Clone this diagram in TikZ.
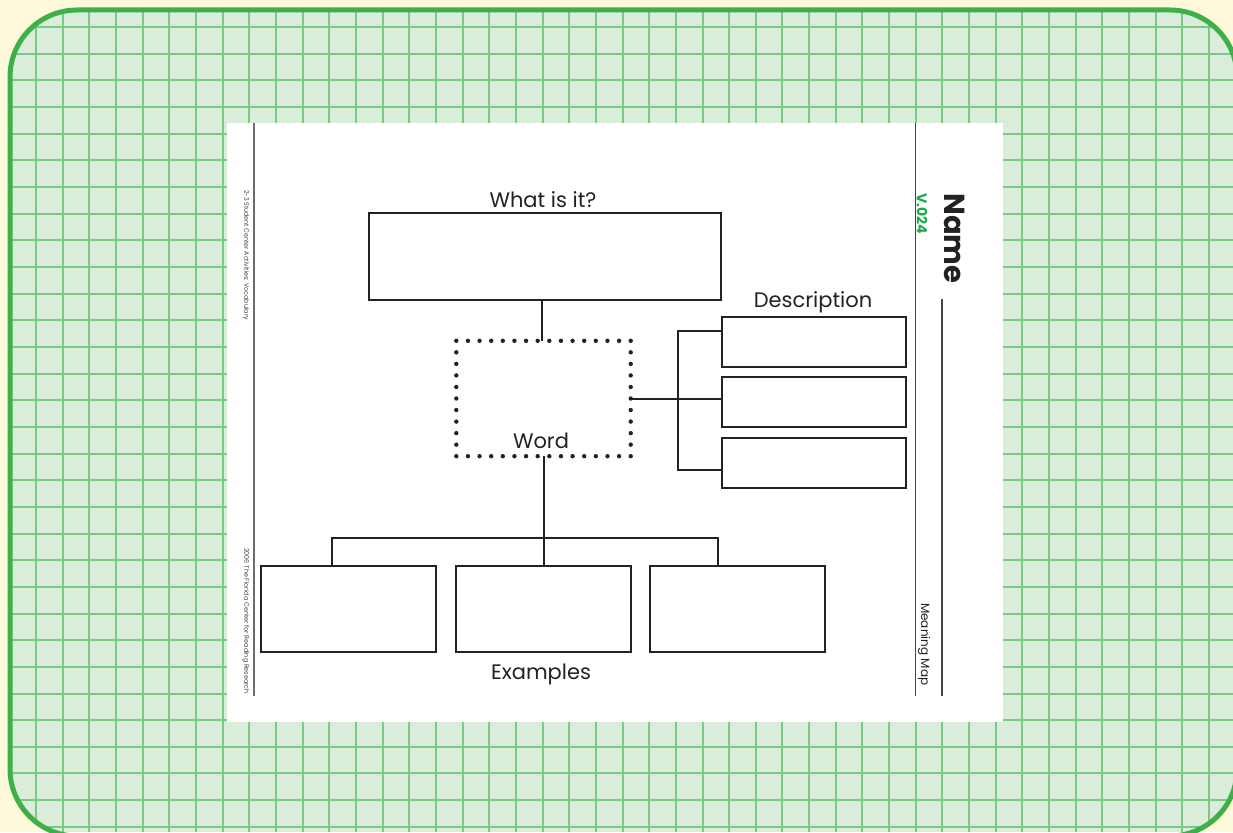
\documentclass[tikz,border=0pt]{standalone}
\usepackage{fontspec}
\setmainfont{Poppins}
\usetikzlibrary{calc}
\definecolor{cream}{HTML}{FEF9DA}
\definecolor{gfill}{HTML}{D9EDDA}
\definecolor{gline}{HTML}{7AC984}
\definecolor{gborder}{HTML}{3FAF4A}
\definecolor{vgreen}{HTML}{1AAA4E}
\definecolor{ink}{HTML}{222222}
\begin{document}
\begin{tikzpicture}[x=1pt,y=-1pt,
  bigbox/.style={draw=ink,line width=2pt,inner sep=0pt},
  whatbox/.style={bigbox,minimum width=352pt,minimum height=87pt},
  exbox/.style={bigbox,minimum width=175pt,minimum height=86pt},
  descbox/.style={draw=ink,line width=1.3pt,inner sep=0pt,minimum width=184pt,minimum height=50pt},
  dotbox/.style={inner sep=0pt,minimum width=174pt,minimum height=115pt},
  dot/.style={fill=ink,draw=none},
  conn/.style={draw=ink,line width=2pt},
  lbl/.style={font=\fontsize{21}{24}\selectfont,text=ink,anchor=base,inner sep=0pt},
  sidetxt/.style={rotate=-90,anchor=west,inner sep=0pt}]
\useasboundingbox (0,0) rectangle (1233,832);
\fill[cream] (0,0) rectangle (1233,832);
% green grid panel
\begin{scope}
  \clip[rounded corners=67pt] (10,10) rectangle (1237,836);
  \fill[gfill] (0,0) rectangle (1233,832);
  \foreach \k in {-1,...,46} \draw[gline,line width=2pt] ({round(36+26.66*\k)},0) -- ({round(36+26.66*\k)},832);
  \foreach \k in {-1,...,31} \draw[gline,line width=2pt] (0,{round(27+26.66*\k)}) -- (1233,{round(27+26.66*\k)});
\end{scope}
\draw[gborder,line width=5pt,rounded corners=67pt] (10,10) rectangle (1237,836);
% white page
\fill[white] (227,123) rectangle (1003,722);
\draw[gray!85!black,line width=2pt] (254,123) -- (254,696);
\draw[ink!85,line width=1.3pt] (915.5,123) -- (915.5,696);
\draw[ink!85,line width=1.3pt] (942,299) -- (942,696);
% side texts
\node[sidetxt,font=\fontsize{6.3}{7}\selectfont,text=black!75] (src) at (246,190) {2-3 Student Center Activities: Vocabulary};
\node[sidetxt,font=\fontsize{6.4}{7}\selectfont,text=black!75] (copy) at (246,548) {2006 The Florida Center for Reading Research};
\node[sidetxt,font=\bfseries\fontsize{29}{31}\selectfont,text=ink] (name) at (955,193) {Name};
\node[sidetxt,font=\bfseries\fontsize{14}{16}\selectfont,text=vgreen] (ver) at (922,193) {V.024};
\node[sidetxt,font=\fontsize{12}{14}\selectfont,text=ink] (mm) at (924,603) {Meaning Map};
% boxes
\node[whatbox] (what) at (545,256.5) {};
\node[dotbox] (word) at (543.5,398.5) {};
\foreach \i in {0,...,15} {
  \fill[dot] ($(word.north west)!\i/15!(word.north east)$) circle (2.2pt);
  \fill[dot] ($(word.south west)!\i/15!(word.south east)$) circle (2.2pt);
}
\foreach \j in {1,...,9} {
  \fill[dot] ($(word.north west)!\j/10!(word.south west)$) circle (2.2pt);
  \fill[dot] ($(word.north east)!\j/10!(word.south east)$) circle (2.2pt);
}
\node[descbox] (desc1) at (814,342) {};
\node[descbox] (desc2) at (814,402) {};
\node[descbox] (desc3) at (814,463) {};
\node[exbox] (ex1) at (348.5,609) {};
\node[exbox] (ex2) at (543.5,609) {};
\node[exbox] (ex3) at (737.5,609) {};
% labels
\node[lbl] (lwhat) at (543,207) {What is it?};
\node[lbl] (ldesc) at (813,307) {Description};
\node[lbl] (lword) at (541,448) {Word};
\node[lbl] (lex) at (541,679) {Examples};
% connectors
\coordinate (b1) at (678,331);
\coordinate (b3) at (678,470);
\coordinate (e1) at (332,538);
\coordinate (e3) at (718,538);
\draw[conn] ([xshift=-1.5pt]word.north) -- ([xshift=-1.5pt]word.north |- what.south);
\draw[conn] (word.east) -- (word.east -| desc2.west);
\draw[conn] (b1 -| desc1.west) -- (b1) -- (b3) -- (b3 -| desc3.west);
\draw[conn] (word.south) -- (word.south |- e1);
\draw[conn] (e1 |- ex1.north) -- (e1) -- (e3) -- (e3 |- ex3.north);
\draw[conn] (ex2.north) -- (ex2.north |- e1);
\end{tikzpicture}
\end{document}
